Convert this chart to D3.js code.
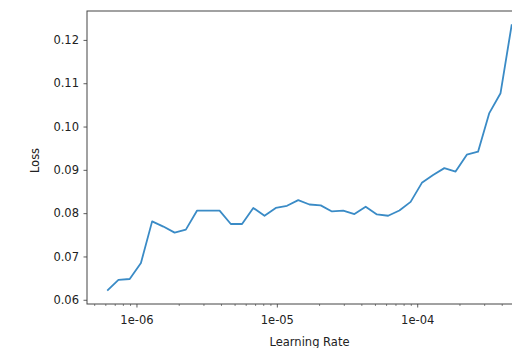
<!DOCTYPE html>
<html>
<head>
<meta charset="utf-8">
<script src="https://cdn.jsdelivr.net/npm/d3@7"></script>
<style>
  html, body { margin: 0; padding: 0; background: #fff; }
  svg { display: block; }
  text { font-family: "DejaVu Sans", sans-serif; fill: #222; }
</style>
</head>
<body>
<div id="chart"></div>
<script>
// Learning-rate range test: loss recorded at each learning rate
const learningRates = [
  6.19e-7, 7.44e-7, 8.95e-7, 1.076e-6, 1.293e-6, 1.555e-6, 1.870e-6, 2.248e-6,
  2.704e-6, 3.251e-6, 3.909e-6, 4.700e-6, 5.651e-6, 6.795e-6, 8.171e-6, 9.826e-6,
  1.1815e-5, 1.4206e-5, 1.708e-5, 2.054e-5, 2.470e-5, 2.970e-5, 3.571e-5, 4.294e-5,
  5.163e-5, 6.208e-5, 7.465e-5, 8.976e-5, 1.0794e-4, 1.2979e-4, 1.5606e-4, 1.8766e-4,
  2.2565e-4, 2.7133e-4, 3.2626e-4, 3.9231e-4, 4.7172e-4
];
const losses = [
  0.0621, 0.0646, 0.0648, 0.0685, 0.0781, 0.0769, 0.0755, 0.0762,
  0.0806, 0.0806, 0.0806, 0.0775, 0.0775, 0.0812, 0.0794, 0.0812,
  0.0817, 0.0830, 0.0820, 0.0818, 0.0804, 0.0806, 0.0798, 0.0815,
  0.0797, 0.0794, 0.0806, 0.0826, 0.0870, 0.0888, 0.0904, 0.0896,
  0.0935, 0.0942, 0.1031, 0.1077, 0.1236
];
const yTicks = [0.06, 0.07, 0.08, 0.09, 0.10, 0.11, 0.12];
const xMajorTicks = [1e-6, 1e-5, 1e-4];
const xTickLabels = ["1e-06", "1e-05", "1e-04"];
const xLabel = "Learning Rate";
const yLabel = "Loss";

const W = 512, H = 348;
const plot = { left: 87, right: 532, top: 11, bottom: 304 };
const fontSize = 11.5;

// autoscale with 5% padding on both axes (log-space for x)
const lx = learningRates.map(Math.log10);
const lxMin = d3.min(lx), lxMax = d3.max(lx), lxPad = 0.05 * (lxMax - lxMin);
const yMin = d3.min(losses), yMax = d3.max(losses), yPad = 0.05 * (yMax - yMin);

const x = d3.scaleLog()
  .domain([Math.pow(10, lxMin - lxPad), Math.pow(10, lxMax + lxPad)])
  .range([plot.left, plot.right]);
const y = d3.scaleLinear()
  .domain([yMin - yPad, yMax + yPad])
  .range([plot.bottom, plot.top]);

const svg = d3.select("#chart").append("svg")
  .attr("width", W).attr("height", H);

// minor ticks on the log axis (2..9 within each decade)
const minorTicks = [];
for (let e = -7; e <= -3; e++) {
  for (let m = 2; m <= 9; m++) {
    const v = m * Math.pow(10, e);
    if (v >= x.domain()[0] && v <= x.domain()[1]) minorTicks.push(v);
  }
}
const xMinorAxis = d3.axisBottom(x).tickValues(minorTicks).tickSize(2).tickFormat("");
svg.append("g").attr("transform", `translate(0,${plot.bottom})`)
  .call(xMinorAxis)
  .call(g => g.select(".domain").remove())
  .call(g => g.selectAll("line").attr("stroke", "#333").attr("stroke-width", 0.6));

const xAxis = d3.axisBottom(x).tickValues(xMajorTicks).tickSize(3.5).tickPadding(8)
  .tickFormat((d, i) => xTickLabels[i]);
svg.append("g").attr("transform", `translate(0,${plot.bottom})`)
  .call(xAxis)
  .call(g => g.select(".domain").remove())
  .call(g => g.selectAll("line").attr("stroke", "#333").attr("stroke-width", 0.8))
  .call(g => g.selectAll("text").attr("font-size", fontSize).attr("font-family", "DejaVu Sans").attr("fill", "#333"));

const yAxis = d3.axisLeft(y).tickValues(yTicks).tickSize(3.5).tickPadding(4.5)
  .tickFormat(d3.format(".2f"));
svg.append("g").attr("transform", `translate(${plot.left},0)`)
  .call(yAxis)
  .call(g => g.select(".domain").remove())
  .call(g => g.selectAll("line").attr("stroke", "#333").attr("stroke-width", 0.8))
  .call(g => g.selectAll("text").attr("font-size", fontSize).attr("font-family", "DejaVu Sans").attr("fill", "#333"));

// loss curve, clipped to the axes area
svg.append("clipPath").attr("id", "plot-clip")
  .append("rect")
  .attr("x", plot.left).attr("y", plot.top)
  .attr("width", plot.right - plot.left).attr("height", plot.bottom - plot.top);

const line = d3.line()
  .x((d, i) => x(learningRates[i]))
  .y(d => y(d));
svg.append("path")
  .datum(losses)
  .attr("clip-path", "url(#plot-clip)")
  .attr("fill", "none")
  .attr("stroke", "#3a8bc6")
  .attr("stroke-width", 1.8)
  .attr("stroke-linejoin", "round")
  .attr("d", line);

// axes frame
svg.append("rect")
  .attr("x", plot.left).attr("y", plot.top)
  .attr("width", plot.right - plot.left).attr("height", plot.bottom - plot.top)
  .attr("fill", "none").attr("stroke", "#444").attr("stroke-width", 1);

// axis titles
svg.append("text")
  .attr("x", (plot.left + plot.right) / 2).attr("y", 346)
  .attr("text-anchor", "middle").attr("font-size", fontSize).attr("fill", "#333")
  .text(xLabel);
svg.append("text")
  .attr("transform", `translate(39,${(plot.top + plot.bottom) / 2 + 3}) rotate(-90)`)
  .attr("text-anchor", "middle").attr("font-size", fontSize).attr("fill", "#333")
  .text(yLabel);
</script>
</body>
</html>
